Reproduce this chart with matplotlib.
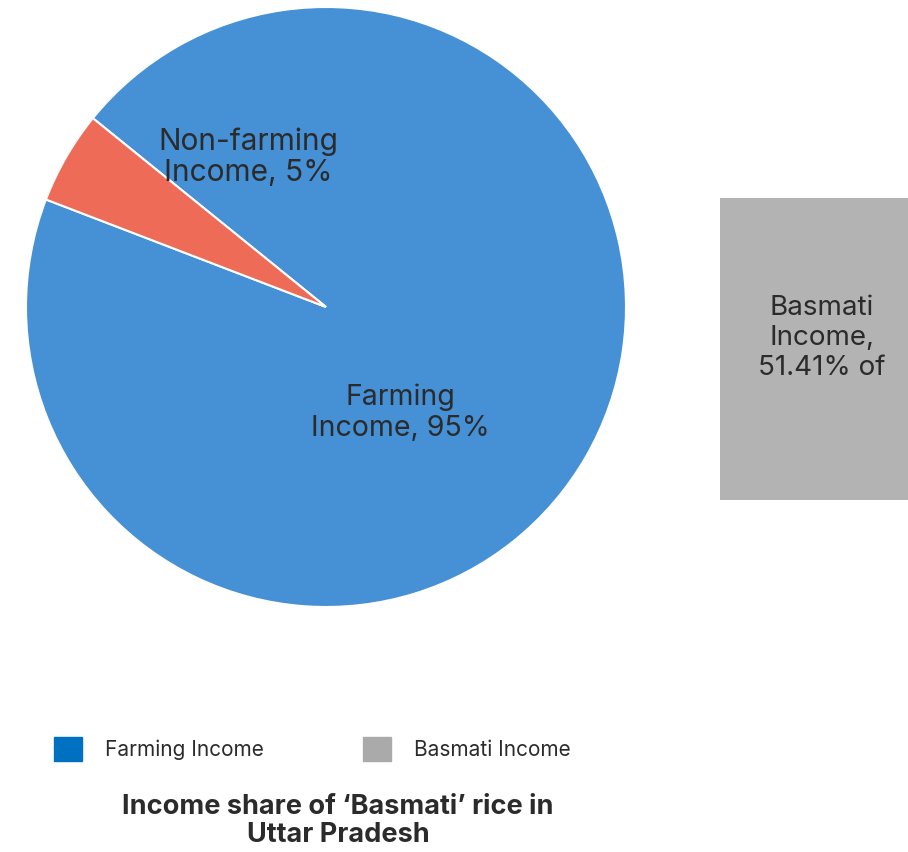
import matplotlib
matplotlib.use("Agg")
import matplotlib.pyplot as plt
from matplotlib.patches import Patch

plt.rcParams['font.family'] = ['Inter', 'DejaVu Sans']

# data
income_labels = ['Farming\nIncome, 95%', 'Non-farming\nIncome, 5%']
income_shares = [95, 5]
basmati_label = 'Basmati\nIncome,\n51.41% of'
basmati_share = 51.41
legend_names = ['Farming Income', 'Basmati Income']

BLUE = '#4690d5'
RED = '#ee6b57'
GRAY = '#b3b3b3'
LEG_BLUE = '#0070c0'
LEG_GRAY = '#aaaaaa'
TXT = '#2b2b2b'

W, H = 908, 852


def px_box(x0, y0, x1, y1):
    # pixel box (top-left origin) -> figure fraction [l, b, w, h]
    return [x0 / W, (H - y1) / H, (x1 - x0) / W, (y1 - y0) / H]


def main():
    fig = plt.figure(figsize=(W / 100, H / 100), dpi=100)

    # pie
    ax = fig.add_axes(px_box(26, 7, 626, 607))
    ax.pie(income_shares, colors=[BLUE, RED], startangle=159,
           counterclock=True,
           wedgeprops={'edgecolor': 'white', 'linewidth': 1.5})
    ax.set_xlim(-1, 1)
    ax.set_ylim(-1, 1)
    ax.set_aspect('equal')
    # label positions in data units (radius 1 = 300 px)
    ax.text(74 / 300, -(413 - 307) / 300, income_labels[0], ha='center',
            va='center', fontsize=20.5, color=TXT, linespacing=1.2)
    ax.text(-78 / 300, (307 - 157) / 300, income_labels[1], ha='center',
            va='center', fontsize=21.5, color=TXT, linespacing=1.15)

    # basmati block, cut off at the right edge
    ax2 = fig.add_axes(px_box(720, 198, 908, 500))
    ax2.barh([0], [basmati_share], height=1, left=0, color=GRAY)
    ax2.set_xlim(0, 30)
    ax2.set_ylim(-0.5, 0.5)
    ax2.axis('off')
    ax2.text(102 / 188, 1 - (338 - 198) / 302, basmati_label,
             transform=ax2.transAxes, ha='center', va='center',
             fontsize=20, color=TXT, linespacing=1.2)

    # legend
    handles = [Patch(color=LEG_BLUE), Patch(color=LEG_GRAY)]
    fig.legend(handles, legend_names, loc='center left',
               bbox_to_anchor=(35 / W, 1 - 749 / H), ncol=2, frameon=False,
               fontsize=15, handlelength=1.35, handleheight=1.45,
               handletextpad=1.1, columnspacing=4.75, labelcolor=TXT)

    fig.text(338 / W, 1 - 821 / H,
             'Income share of \u2018Basmati\u2019 rice in\nUttar Pradesh',
             ha='center', va='center', fontsize=19.5, fontweight='bold',
             color=TXT, linespacing=1.1)

    fig.savefig('out.png', dpi=100)


if __name__ == '__main__':
    main()
